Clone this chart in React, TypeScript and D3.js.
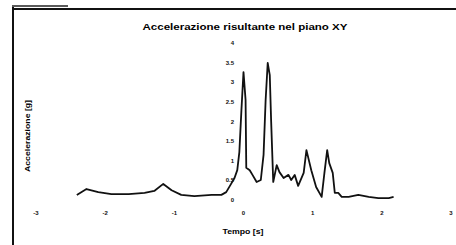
import React, { useEffect, useRef } from "react";
import * as d3 from "d3";

// values
const timeS = [
  -2.41, -2.27, -2.1, -1.91, -1.66, -1.43, -1.29, -1.16, -1.04, -0.9, -0.71, -0.46, -0.32, -0.25, -0.19,
  -0.13, -0.09, -0.06, -0.03, 0.0, 0.03, 0.04, 0.09, 0.13, 0.19, 0.25, 0.29, 0.32, 0.35, 0.38, 0.4, 0.43,
  0.48, 0.52, 0.58, 0.65, 0.69, 0.74, 0.79, 0.87, 0.91, 0.98, 1.05, 1.13, 1.17, 1.21, 1.24, 1.29, 1.32,
  1.37, 1.42, 1.52, 1.66, 1.81, 1.95, 2.1, 2.17,
];
const accelG = [
  0.13, 0.28, 0.2, 0.15, 0.15, 0.18, 0.23, 0.41, 0.25, 0.13, 0.1, 0.13, 0.13, 0.2, 0.38,
  0.56, 0.76, 1.22, 2.29, 3.26, 2.55, 0.82, 0.76, 0.64, 0.46, 0.51, 1.15, 2.55, 3.49, 3.18, 1.99, 0.46,
  0.89, 0.71, 0.56, 0.64, 0.51, 0.64, 0.36, 0.69, 1.27, 0.76, 0.33, 0.08, 0.69, 1.27, 0.94, 0.69, 0.18,
  0.18, 0.08, 0.08, 0.13, 0.08, 0.05, 0.05, 0.08,
];
const xTicks = [-3, -2, -1, 0, 1, 2, 3];
const yTicks = [0, 0.5, 1, 1.5, 2, 2.5, 3, 3.5, 4];

const W = 456;
const H = 245;
const FONT = "'Liberation Sans', Arial, sans-serif";

export default function App() {
  const ref = useRef<SVGSVGElement>(null);

  useEffect(() => {
    if (!ref.current) return;
    const svg = d3.select(ref.current);
    svg.selectAll("*").remove();

    const x = d3.scaleLinear().domain([-3, 3]).range([36, 451]);
    const y = d3.scaleLinear().domain([0, 4]).range([200, 43]);

    // chart frame (scanned border)
    svg.append("line").attr("x1", 13).attr("x2", 13).attr("y1", 7).attr("y2", H)
      .attr("stroke", "#111").attr("stroke-width", 2);
    svg.append("line").attr("x1", 12).attr("x2", W).attr("y1", 9).attr("y2", 9)
      .attr("stroke", "#111").attr("stroke-width", 2);
    svg.append("line").attr("x1", 12).attr("x2", 68).attr("y1", 6).attr("y2", 6)
      .attr("stroke", "#222").attr("stroke-width", 1.5);

    // title
    svg.append("text")
      .attr("x", 245).attr("y", 30)
      .attr("text-anchor", "middle")
      .attr("font-family", FONT).attr("font-weight", "bold").attr("font-size", 9)
      .attr("textLength", 205).attr("lengthAdjust", "spacingAndGlyphs")
      .text("Accelerazione risultante nel piano XY");

    // y tick labels
    svg.selectAll(".ylab")
      .data(yTicks)
      .join("text")
      .attr("class", "ylab")
      .attr("x", 234)
      .attr("y", (d) => y(d) + 2)
      .attr("text-anchor", "end")
      .attr("font-family", FONT).attr("font-weight", "bold").attr("font-size", 6)
      .attr("fill", "#111")
      .text((d) => `${d}`);

    // x tick labels
    svg.selectAll(".xlab")
      .data(xTicks)
      .join("text")
      .attr("class", "xlab")
      .attr("x", (d) => x(d))
      .attr("y", 215)
      .attr("text-anchor", "middle")
      .attr("font-family", FONT).attr("font-weight", "bold").attr("font-size", 6)
      .attr("fill", "#111")
      .text((d) => `${d}`);

    // axis titles
    svg.append("text")
      .attr("transform", "translate(30,136) rotate(-90)")
      .attr("text-anchor", "middle")
      .attr("font-family", FONT).attr("font-weight", "bold").attr("font-size", 7.5)
      .attr("textLength", 72).attr("lengthAdjust", "spacingAndGlyphs")
      .text("Accelerazione [g]");
    svg.append("text")
      .attr("x", 243).attr("y", 234)
      .attr("text-anchor", "middle")
      .attr("font-family", FONT).attr("font-weight", "bold").attr("font-size", 7.5)
      .attr("textLength", 41).attr("lengthAdjust", "spacingAndGlyphs")
      .text("Tempo [s]");

    // data line
    const pts = timeS.map((t, i) => [t, accelG[i]] as [number, number]);
    const line = d3.line<[number, number]>().x((d) => x(d[0])).y((d) => y(d[1]));
    svg.append("path")
      .datum(pts)
      .attr("d", line)
      .attr("fill", "none")
      .attr("stroke", "#111")
      .attr("stroke-width", 1.8)
      .attr("stroke-linejoin", "round");
  }, []);

  return (
    <div style={{ position: "fixed", left: 0, top: 0, background: "#fff" }}>
      <svg ref={ref} width={W} height={H} viewBox={`0 0 ${W} ${H}`} style={{ display: "block" }} />
    </div>
  );
}
